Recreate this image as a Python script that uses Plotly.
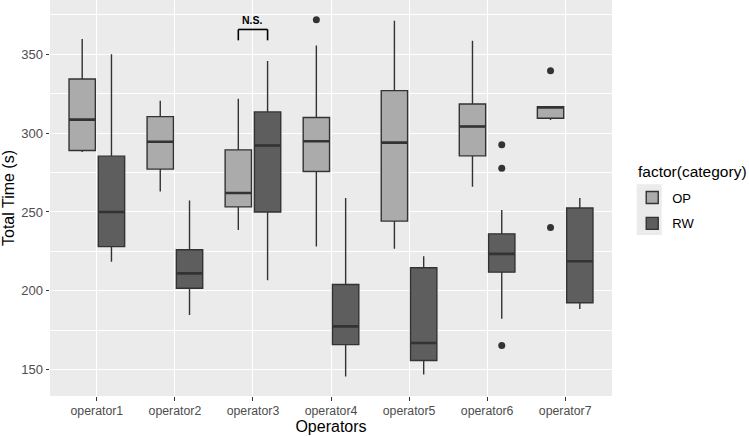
import plotly.graph_objects as go

operators = ["operator1", "operator2", "operator3", "operator4", "operator5", "operator6", "operator7"]

op_lower = [288.0, 263.0, 238.6, 228.0, 226.6, 266.0, 308.4]
op_q1 = [289.0, 277.2, 253.2, 275.7, 244.2, 285.6, 309.5]
op_median = [308.6, 294.5, 262.0, 294.9, 294.0, 304.2, 316.4]
op_q3 = [334.4, 310.5, 289.4, 309.9, 327.0, 318.5, 316.8]
op_upper = [359.7, 320.6, 321.9, 355.7, 371.3, 358.6, 316.8]
op_outlier_x = ["operator4", "operator7", "operator7"]
op_outlier_y = [372.0, 339.6, 240.1]

rw_lower = [218.4, 184.6, 206.7, 145.6, 146.8, 182.3, 188.4]
rw_q1 = [228.0, 201.6, 250.0, 165.8, 155.7, 211.8, 192.4]
rw_median = [250.0, 211.0, 292.2, 177.4, 166.8, 223.4, 218.7]
rw_q3 = [285.4, 226.0, 313.5, 204.0, 214.6, 236.1, 252.5]
rw_upper = [350.0, 257.2, 345.8, 258.9, 221.9, 251.3, 258.9]
rw_outlier_x = ["operator6", "operator6", "operator6"]
rw_outlier_y = [292.6, 277.8, 165.2]

y_ticks = [150, 200, 250, 300, 350]
legend_title = "factor(category)"
ns_label = "N.S."
ns_category = "operator3"
ns_bracket_top = 365.8
ns_bracket_bottom = 358.9
ns_label_y = 371.5

FONT = "Liberation Sans, Arial, sans-serif"
LINE = "#333333"
OP_FILL = "#ABABAB"
RW_FILL = "#5E5E5E"
BOXGAP = 0.25
GROUPGAP = 0.1

fig = go.Figure()

series = [
    ("OP", OP_FILL, op_lower, op_q1, op_median, op_q3, op_upper, op_outlier_x, op_outlier_y),
    ("RW", RW_FILL, rw_lower, rw_q1, rw_median, rw_q3, rw_upper, rw_outlier_x, rw_outlier_y),
]
for name, fill, lo, q1, med, q3, up, ox, oy in series:
    fig.add_trace(go.Box(
        name=name, x=operators,
        q1=q1, median=med, q3=q3, lowerfence=lo, upperfence=up,
        boxpoints=False,
        fillcolor=fill, line=dict(color=LINE, width=1.4),
        whiskerwidth=0, offsetgroup=name, legendgroup=name,
        hoverinfo="skip",
    ))
for name, fill, lo, q1, med, q3, up, ox, oy in series:
    fig.add_trace(go.Box(
        name=name, x=operators,
        q1=med, median=med, q3=med, lowerfence=med, upperfence=med,
        boxpoints=False, fillcolor=fill, line=dict(color=LINE, width=2.6),
        whiskerwidth=0, offsetgroup=name, legendgroup=name,
        showlegend=False, hoverinfo="skip",
    ))
for name, fill, lo, q1, med, q3, up, ox, oy in series:
    fig.add_trace(go.Scatter(
        name=name, x=ox, y=oy, mode="markers",
        marker=dict(color=LINE, size=7, line=dict(width=0)),
        offsetgroup=name, legendgroup=name, showlegend=False, hoverinfo="skip",
    ))

# N.S. bracket between the two boxes of operator3
ci = operators.index(ns_category)
half_slot = (1 - BOXGAP) / 4
x_left = ci - half_slot
x_right = ci + half_slot
bracket = dict(type="line", xref="x", yref="y", line=dict(color="black", width=1.6))
fig.add_shape(x0=x_left, x1=x_left, y0=ns_bracket_bottom, y1=ns_bracket_top, **bracket)
fig.add_shape(x0=x_left, x1=x_right, y0=ns_bracket_top, y1=ns_bracket_top, **bracket)
fig.add_shape(x0=x_right, x1=x_right, y0=ns_bracket_bottom, y1=ns_bracket_top, **bracket)
fig.add_annotation(x=ci, y=ns_label_y, xref="x", yref="y", text="<b>" + ns_label + "</b>",
                   showarrow=False, font=dict(family=FONT, size=10.5, color="black"))

# legend key background (ggplot style grey key panel)
fig.add_shape(type="rect", xref="paper", yref="paper", layer="above",
              x0=(636.7 - 50) / 562, x1=(661.7 - 50) / 562,
              y0=1 - 235 / 396, y1=1 - 184.3 / 396,
              fillcolor="#EBEBEB", line=dict(width=0))
fig.add_annotation(x=(636 - 50) / 562, y=1 - 171 / 396, xref="paper", yref="paper",
                   xanchor="left", yanchor="middle", text=legend_title, showarrow=False,
                   font=dict(family=FONT, size=15.5, color="black"))

fig.update_layout(
    width=749, height=437,
    margin=dict(l=50, r=137, t=0, b=41),
    paper_bgcolor="white", plot_bgcolor="#EBEBEB",
    boxmode="group", boxgap=BOXGAP, boxgroupgap=GROUPGAP,
    scattermode="group", scattergap=BOXGAP,
    font=dict(family=FONT, color="black"),
    legend=dict(
        x=1.036, xanchor="left", y=1 - 182.5 / 396, yanchor="top",
        font=dict(size=13, color="black"), bgcolor="rgba(0,0,0,0)",
        itemwidth=30, tracegroupgap=6,
    ),
    xaxis=dict(
        title=dict(text="Operators", font=dict(size=16, color="black"), standoff=0),
        categoryorder="array", categoryarray=operators,
        range=[-0.6, len(operators) - 0.4],
        showgrid=True, gridcolor="white", gridwidth=1.1,
        ticks="outside", ticklen=3.5, tickcolor=LINE, tickwidth=1.1,
        tickfont=dict(size=12.3, color="#4D4D4D"),
        zeroline=False, showline=False,
    ),
    yaxis=dict(
        title=dict(text="Total Time (s)", font=dict(size=16, color="black"), standoff=2),
        range=[133.2, 384.5], tickvals=y_ticks,
        showgrid=True, gridcolor="white", gridwidth=1.1,
        minor=dict(dtick=50, tick0=175, showgrid=True, gridcolor="white", gridwidth=0.55),
        ticks="outside", ticklen=3.5, tickcolor=LINE, tickwidth=1.1,
        tickfont=dict(size=13, color="#4D4D4D"),
        zeroline=False, showline=False,
    ),
)

fig.write_html("out.html")
